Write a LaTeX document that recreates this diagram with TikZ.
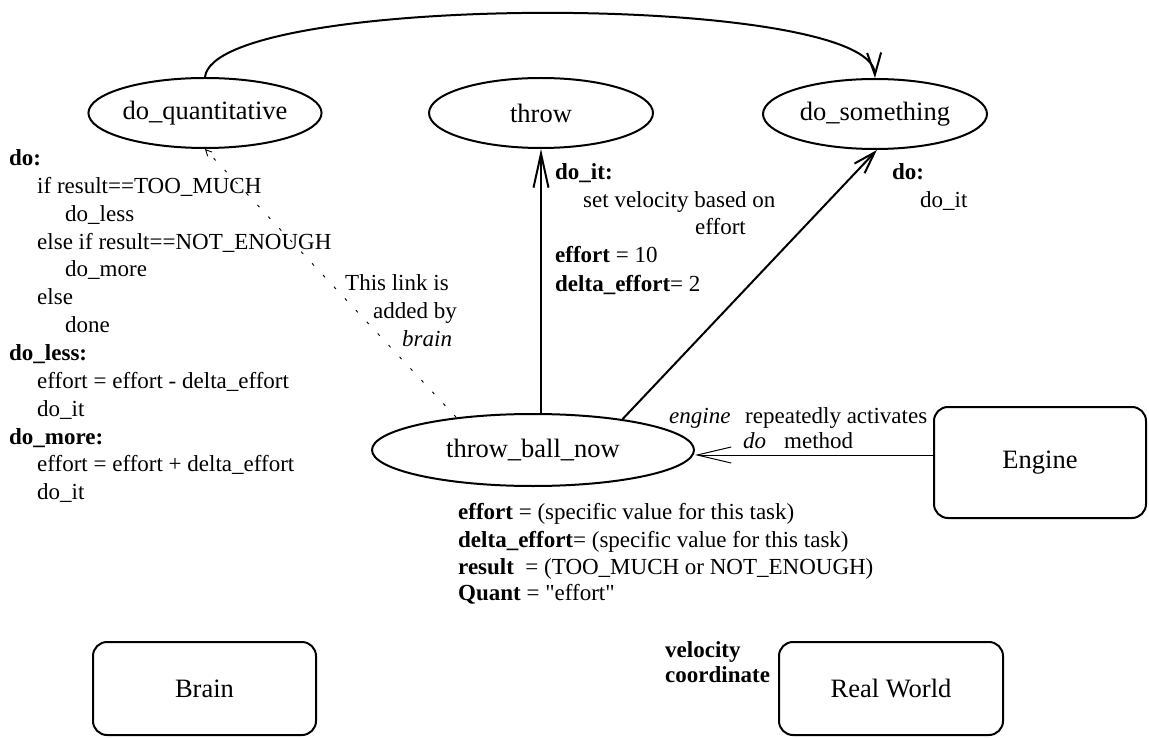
\documentclass[tikz,border=0pt]{standalone}
\usepackage{fontspec}
\setmainfont{Liberation Serif}
\newfontfamily\plainfont{Liberation Serif}
\usetikzlibrary{arrows.meta,shapes.geometric}
\begin{document}
\begin{tikzpicture}[x=1pt,y=-1pt,
  state/.style={draw,ellipse,line width=2pt,minimum width=224pt,minimum height=70pt,inner sep=0pt,font=\fontsize{26.5}{30}\selectfont},
  box/.style={draw,rounded corners=14pt,line width=2pt,inner sep=0pt,font=\fontsize{26.5}{30}\selectfont},
  txt/.style={anchor=base west,inner sep=0pt,font=\fontsize{23}{27}\selectfont},
  conn/.style={line width=2pt,-{Straight Barb[length=34pt,width=15pt]}},
  shortconn/.style={line width=2pt,-{Straight Barb[length=22pt,width=14pt]}},
  thinconn/.style={line width=1pt,-{Straight Barb[length=34pt,width=16pt]}},
  dotlink/.style={line width=0.9pt,dash pattern=on 3pt off 13pt,-{Straight Barb[length=6pt,width=6pt]}}
]
\useasboundingbox (0,0) rectangle (1149,738);

% states
\node[state] (dq) at (205,113) {do\_quantitative};
\node[state] (th) at (541,113) {throw};
\node[state] (ds) at (875,114) {do\_something};
\node[state,minimum width=322pt,minimum height=72pt] (tbn) at (533,450) {throw\_ball\_now};

% boxes
\node[box,minimum width=212pt,minimum height=111pt] (eng) at (1040,462.5) {Engine};
\node[box,minimum width=223pt,minimum height=93pt] (brain) at (204.5,688.5) {Brain};
\node[box,minimum width=224pt,minimum height=93pt] (rw) at (891,688.5) {Real World};

% connectors
\draw[shortconn] (dq.north) .. controls (215,-8) and (872,-8) .. (ds.north);
\draw[conn] (tbn.north -| th.south) -- (th.south);
\draw[shortconn] (tbn.19) -- (ds.-87);
\draw[thinconn] ([yshift=7.5pt]eng.west) -- ([yshift=-5pt]tbn.east);
\draw[dotlink] (tbn.157) -- (dq.south);

% left code text
\node[txt] (l0) at (9,165.5) {\textbf{do:}};
\node[txt] (l1) at (37,193.4) {if result==TOO\_MUCH};
\node[txt] (l2) at (65,221.2) {do\_less};
\node[txt] (l3) at (37,249.1) {else if result==NOT\_ENOUGH};
\node[txt] (l4) at (65,276.9) {do\_more};
\node[txt] (l5) at (37,304.8) {else};
\node[txt] (l6) at (65,332.6) {done};
\node[txt] (l7) at (9,360.5) {\textbf{do\_less:}};
\node[txt] (l8) at (37,388.3) {effort = effort - delta\_effort};
\node[txt] (l9) at (37,416.2) {do\_it};
\node[txt] (l10) at (9,444) {\textbf{do\_more:}};
\node[txt] (l11) at (37,471.9) {effort = effort + delta\_effort};
\node[txt] (l12) at (37,499.7) {do\_it};

% throw text
\node[txt] (t0) at (555,179.5) {\textbf{do\_it:}};
\node[txt] (t1) at (583,207.5) {set velocity based on};
\node[txt] (t2) at (695,234.5) {effort};
\node[txt] (t3) at (555,262.5) {\textbf{effort} = 10};
\node[txt] (t4) at (555,291.5) {\textbf{delta\_effort}= 2};

% do_something text
\node[txt] (s0) at (892,179.5) {\textbf{do:}};
\node[txt] (s1) at (920,207.5) {do\_it};

% link label
\node[txt] (k0) at (345,290.5) {This link is};
\node[txt] (k1) at (373,318.5) {added by};
\node[txt] (k2) at (402,346.5) {\textit{brain}};

% throw_ball_now text
\node[txt] (b0) at (458,519.5) {\textbf{effort} = (specific value for this task)};
\node[txt] (b1) at (458,547.5) {\textbf{delta\_effort}= (specific value for this task)};
\node[txt] (b2) at (458,574.5) {\textbf{result}\ \ = (TOO\_MUCH or NOT\_ENOUGH)};
\node[txt] (b3) at (458,600.5) {\textbf{Quant} = {\plainfont"}effort{\plainfont"}};

% engine label
\node[txt] (e0) at (669,423.5) {\textit{engine}};
\node[txt] (e1) at (745,423.5) {repeatedly activates};
\node[txt] (e2) at (743,448.5) {\textit{do}};
\node[txt] (e3) at (784,448.5) {method};

% real world label
\node[txt] (v0) at (665,657.5) {\textbf{velocity}};
\node[txt] (v1) at (665,682.5) {\textbf{coordinate}};
\end{tikzpicture}
\end{document}
